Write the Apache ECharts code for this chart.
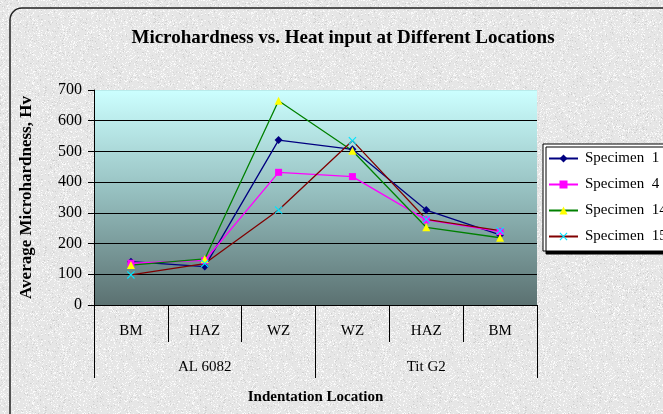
<!DOCTYPE html>
<html>
<head>
<meta charset="utf-8">
<script src="https://cdn.jsdelivr.net/npm/echarts@6/dist/echarts.min.js"></script>
<style>
  html, body { margin: 0; padding: 0; }
  #chart { width: 663px; height: 414px; }
</style>
</head>
<body>
<div id="chart"></div>
<script>
  const locations = ['BM', 'HAZ', 'WZ', 'WZ', 'HAZ', 'BM'];
  const materials = ['AL 6082', 'Tit G2'];
  const specimen1 = [141, 125, 537, 507, 309, 228];
  const specimen4 = [136, 145, 432, 418, 277, 239];
  const specimen14 = [130, 150, 665, 502, 253, 219];
  const specimen15 = [98, 135, 309, 535, 279, 242];

  const serif = 'Liberation Serif';

  // granite-like paper texture for the chart background
  const tex = document.createElement('canvas');
  tex.width = 160; tex.height = 160;
  const tctx = tex.getContext('2d');
  tctx.fillStyle = '#e6e6e6';
  tctx.fillRect(0, 0, 160, 160);
  let seed = 12345;
  function rnd() { seed = (seed * 1103515245 + 12345) % 2147483648; return seed / 2147483648; }
  for (let i = 0; i < 11000; i++) {
    const g = rnd() < 0.6 ? 243 + Math.floor(rnd() * 12) : 205 + Math.floor(rnd() * 22);
    tctx.fillStyle = 'rgb(' + g + ',' + g + ',' + g + ')';
    tctx.fillRect(Math.floor(rnd() * 160), Math.floor(rnd() * 160), 1, 1);
  }

  const cross = 'path://M0,1L1,0L5,4L9,0L10,1L6,5L10,9L9,10L5,6L1,10L0,9L4,5Z';

  const myChart = echarts.init(document.getElementById('chart'));

  const option = {
    backgroundColor: { image: tex, repeat: 'repeat' },
    animation: false,
    graphic: [
      {
        type: 'rect',
        shape: { x: 10, y: 8, width: 720, height: 460, r: 12 },
        style: { fill: 'transparent', stroke: '#222', lineWidth: 1.5 },
        silent: true
      }
    ],
    title: {
      text: 'Microhardness vs. Heat input at Different Locations',
      left: 338,
      textAlign: 'center',
      top: 24,
      textStyle: { fontFamily: serif, fontSize: 19, fontWeight: 'bold', color: '#000' }
    },
    legend: {
      left: 543,
      top: 144,
      orient: 'vertical',
      itemGap: 11,
      itemWidth: 29,
      itemHeight: 10,
      padding: [7, 10, 7, 5],
      backgroundColor: '#fff',
      borderColor: '#000',
      borderWidth: 1,
      borderRadius: 0,
      shadowColor: '#000',
      shadowOffsetX: 3,
      shadowOffsetY: 3,
      shadowBlur: 0,
      textStyle: { fontFamily: serif, fontSize: 15, color: '#000', padding: [0, 0, 0, 2] }
    },
    grid: {
      left: 94,
      right: 126,
      top: 90,
      bottom: 109,
      show: true,
      borderWidth: 0,
      backgroundColor: {
        type: 'linear', x: 0, y: 0, x2: 0, y2: 1,
        colorStops: [
          { offset: 0, color: '#ccffff' },
          { offset: 0.5, color: '#93bcbc' },
          { offset: 1, color: '#5b7171' }
        ]
      }
    },
    xAxis: [
      {
        type: 'category',
        data: locations,
        boundaryGap: true,
        axisLine: { show: true, lineStyle: { color: '#000', width: 1 } },
        axisTick: { show: true, interval: 0, length: 37, lineStyle: { color: '#000' } },
        axisLabel: { interval: 0, margin: 19, fontFamily: serif, fontSize: 15, color: '#000' }
      },
      {
        type: 'category',
        data: materials,
        position: 'bottom',
        boundaryGap: true,
        axisLine: { show: false },
        axisTick: { show: true, interval: 0, length: 73, lineStyle: { color: '#000' } },
        axisLabel: { interval: 0, margin: 55, fontFamily: serif, fontSize: 15, color: '#000' },
        name: 'Indentation Location',
        nameLocation: 'middle',
        nameGap: 85,
        nameTextStyle: { fontFamily: serif, fontSize: 15, fontWeight: 'bold', color: '#000' }
      }
    ],
    yAxis: {
      type: 'value',
      min: 0,
      max: 700,
      interval: 100,
      name: 'Average Microhardness, Hv',
      nameLocation: 'middle',
      nameRotate: 90,
      nameGap: 59,
      nameTextStyle: { fontFamily: serif, fontSize: 17, fontWeight: 'bold', color: '#000' },
      axisLine: { show: true, lineStyle: { color: '#000' } },
      axisTick: { show: true, length: 6, lineStyle: { color: '#000' } },
      axisLabel: { margin: 12, fontFamily: serif, fontSize: 16, color: '#000' },
      splitLine: {
        show: true,
        lineStyle: {
          color: ['#000', '#000', '#000', '#000', '#000', '#000', '#000', 'rgba(180,230,230,0.8)'],
          width: 1
        }
      }
    },
    series: [
      {
        name: 'Specimen  1',
        type: 'line',
        data: specimen1,
        symbol: 'diamond',
        symbolSize: 8,
        itemStyle: { color: '#000080' },
        lineStyle: { color: '#000080', width: 1.3 }
      },
      {
        name: 'Specimen  4',
        type: 'line',
        data: specimen4,
        symbol: 'rect',
        symbolSize: 7,
        itemStyle: { color: '#ff00ff' },
        lineStyle: { color: '#ff00ff', width: 1.3 }
      },
      {
        name: 'Specimen  14',
        type: 'line',
        data: specimen14,
        symbol: 'triangle',
        symbolSize: 8,
        itemStyle: { color: '#ffff00' },
        lineStyle: { color: '#008000', width: 1.3 }
      },
      {
        name: 'Specimen  15',
        type: 'line',
        data: specimen15,
        symbol: cross,
        symbolSize: 8,
        itemStyle: { color: '#00e5ff' },
        lineStyle: { color: '#800000', width: 1.3 }
      }
    ]
  };

  myChart.setOption(option);
</script>
</body>
</html>
